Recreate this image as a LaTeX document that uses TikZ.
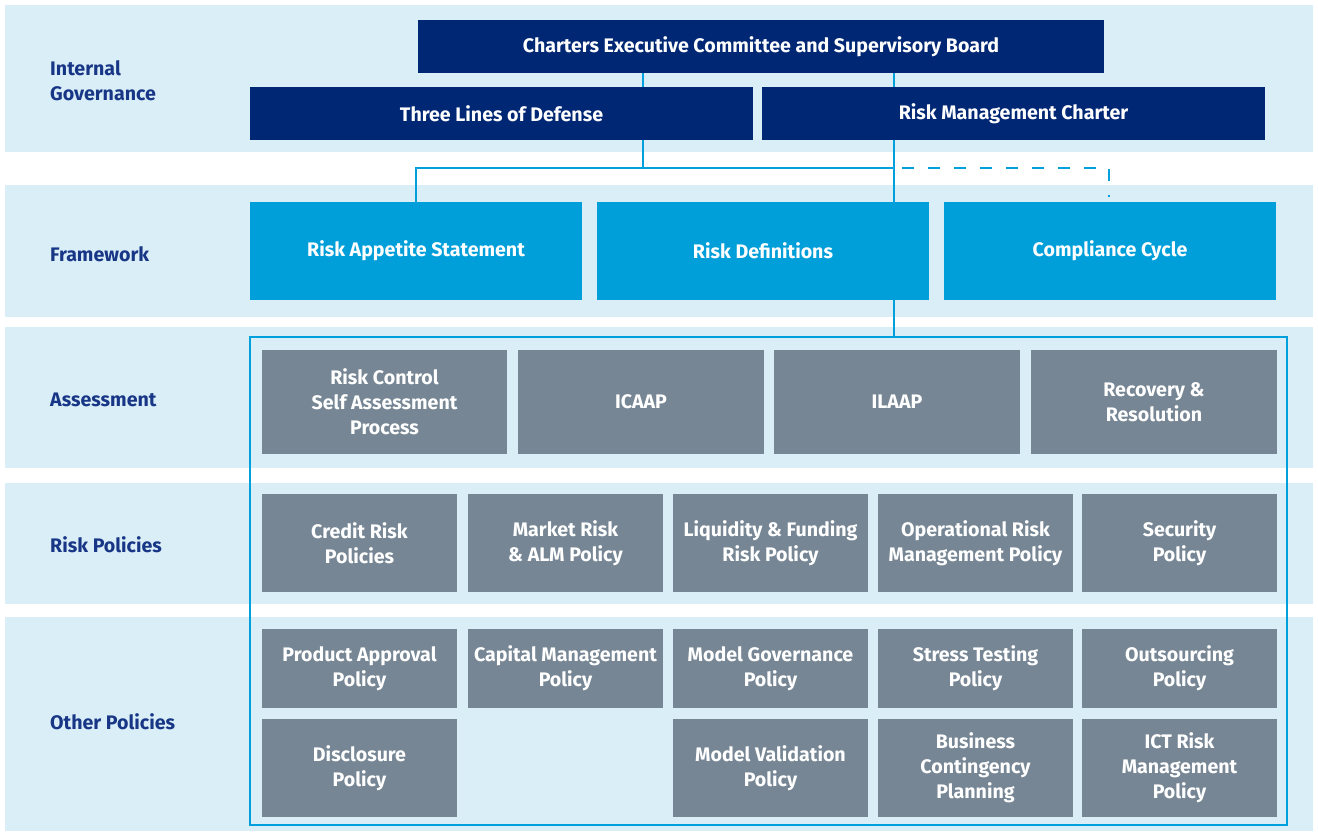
\documentclass[tikz,border=0pt]{standalone}
\usepackage{fontspec}
\setmainfont{Fira Sans}
\definecolor{bandc}{RGB}{218,238,248}
\definecolor{navyc}{RGB}{0,39,116}
\definecolor{fwc}{RGB}{0,159,218}
\definecolor{grayc}{RGB}{118,134,148}
\definecolor{linec}{RGB}{0,160,220}
\definecolor{lblc}{RGB}{24,54,134}
\begin{document}
\begin{tikzpicture}[x=1pt,y=-1pt,
  boxbase/.style={inner sep=0pt, align=center, text=white, font=\bfseries\fontsize{19.6}{25}\selectfont},
  navybox/.style={boxbase, fill=navyc},
  fwbox/.style={boxbase, fill=fwc, minimum width=332pt, minimum height=98pt},
  graybox/.style={boxbase, fill=grayc},
  lbl/.style={anchor=west, align=left, text=lblc, inner sep=0pt, font=\bfseries\fontsize{19.6}{25}\selectfont},
  conn/.style={draw=linec, line width=2pt},
  dconn/.style={draw=linec, line width=2pt, dash pattern=on 12pt off 14pt}
]
\useasboundingbox (0,0) rectangle (1318,834);
% bands
\fill[bandc] (5,5) rectangle (1313,152);
\fill[bandc] (5,185) rectangle (1313,317);
\fill[bandc] (5,327) rectangle (1313,468);
\fill[bandc] (5,483) rectangle (1313,604);
\fill[bandc] (5,617) rectangle (1313,831);
% labels
\node[lbl] (lig) at (50,81) {Internal\\Governance};
\node[lbl] (lfw) at (50,254) {Framework};
\node[lbl] (las) at (50,400) {Assessment};
\node[lbl] (lrp) at (50,545) {Risk Policies};
\node[lbl] (lop) at (50,722) {Other Policies};
% governance
\node[navybox, minimum width=686pt, minimum height=53pt] (ceb) at (761,46.5) {Charters Executive Committee and Supervisory Board};
\node[navybox, minimum width=503pt, minimum height=53pt] (tld) at (501.5,113.5) {Three Lines of Defense};
\node[navybox, minimum width=503pt, minimum height=53pt] (rmc) at (1013.5,113.5) {Risk Management Charter};
% framework
\node[fwbox] (ras) at (416,251) {Risk Appetite Statement};
\node[fwbox] (rd) at (763,251) {Risk Definitions};
\node[fwbox] (cc) at (1110,251) {Compliance Cycle};
% frame
\node[draw=linec, line width=2pt, minimum width=1037pt, minimum height=488pt, inner sep=0pt] (frame) at (768.5,581) {};
% connector coordinates
\coordinate (j1) at (643,168);
\coordinate (j2) at (894,168);
\coordinate (j3) at (1109,168);
\draw[conn] (ceb.south -| j1) -- (tld.north -| j1);
\draw[conn] (ceb.south -| j2) -- (rmc.north -| j2);
\draw[conn] (tld.south -| j1) -- (j1) -| (ras.north);
\draw[conn] (j1) -- (j2);
\draw[conn] (rmc.south -| j2) -- (rd.north -| j2);
\draw[dconn, shorten >=5pt] ([xshift=8pt]j2) -- (j3) -- (cc.north -| j3);
\draw[conn] (rd.south -| j2) -- (frame.north -| j2);
% assessment
\node[graybox, minimum width=245pt, minimum height=104pt] (rcsa) at (384.5,402) {Risk Control\\Self Assessment\\Process};
\node[graybox, minimum width=246pt, minimum height=104pt] (icaap) at (641,402) {ICAAP};
\node[graybox, minimum width=246pt, minimum height=104pt] (ilaap) at (897,402) {ILAAP};
\node[graybox, minimum width=246pt, minimum height=104pt] (rr) at (1154,402) {Recovery \&\\Resolution};
% risk policies
\node[graybox, minimum width=195pt, minimum height=98pt] (crp) at (359.5,543) {Credit Risk\\Policies};
\node[graybox, minimum width=195pt, minimum height=98pt] (mrp) at (565.5,543) {Market Risk\\\& ALM Policy};
\node[graybox, minimum width=195pt, minimum height=98pt] (lfp) at (770.5,543) {Liquidity \& Funding\\Risk Policy};
\node[graybox, minimum width=195pt, minimum height=98pt] (orp) at (975.5,543) {Operational Risk\\Management Policy};
\node[graybox, minimum width=195pt, minimum height=98pt] (sp) at (1179.5,543) {Security\\Policy};
% other policies row 1
\node[graybox, minimum width=195pt, minimum height=79pt] (pap) at (359.5,668.5) {Product Approval\\Policy};
\node[graybox, minimum width=195pt, minimum height=79pt] (cmp) at (565.5,668.5) {Capital Management\\Policy};
\node[graybox, minimum width=195pt, minimum height=79pt] (mgp) at (770.5,668.5) {Model Governance\\Policy};
\node[graybox, minimum width=195pt, minimum height=79pt] (stp) at (975.5,668.5) {Stress Testing\\Policy};
\node[graybox, minimum width=195pt, minimum height=79pt] (osp) at (1179.5,668.5) {Outsourcing\\Policy};
% other policies row 2
\node[graybox, minimum width=195pt, minimum height=98pt] (dp) at (359.5,768) {Disclosure\\Policy};
\node[graybox, minimum width=195pt, minimum height=98pt] (mvp) at (770.5,768) {Model Validation\\Policy};
\node[graybox, minimum width=195pt, minimum height=98pt] (bcp) at (975.5,768) {Business\\Contingency\\Planning};
\node[graybox, minimum width=195pt, minimum height=98pt] (ict) at (1179.5,768) {ICT Risk\\Management\\Policy};
\end{tikzpicture}
\end{document}
